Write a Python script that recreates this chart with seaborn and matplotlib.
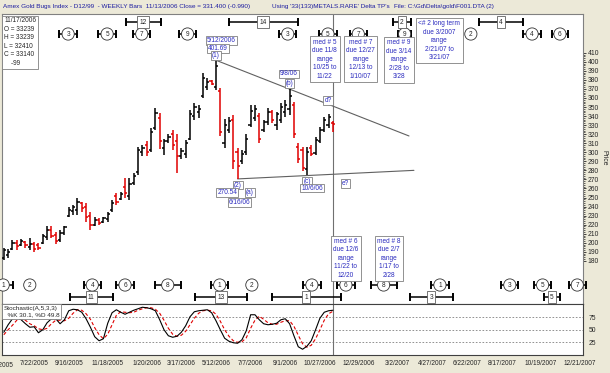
import numpy as np
import pandas as pd
import matplotlib
matplotlib.use('Agg')
import matplotlib.pyplot as plt
import matplotlib.dates as mdates
import matplotlib.transforms as mtransforms
import seaborn as sns

# Weekly bars 6/3/2005 .. 11/17/2006
bar_dates = pd.date_range('2005-06-03', '2006-11-17', freq='7D')
opens = [183, 186, 193, 200, 197, 201, 195, 199, 197, 200, 206, 214, 209, 203, 211,
         230, 235, 236, 244, 240, 230, 220, 225, 223, 226, 236, 252, 248, 262, 252,
         266, 278, 300, 308, 302, 327, 338, 305, 312, 320, 312, 296, 298, 315, 340,
         345, 362, 372, 379, 372, 368, 310, 325, 336, 300, 290, 300, 330, 338, 340,
         325, 333, 344, 330, 336, 345, 348, 352, 306, 303, 282, 305, 299, 312, 325,
         330, 332]
highs = [194, 193, 203, 203, 204, 202, 205, 201, 200, 210, 218, 218, 212, 214, 219,
         240, 242, 249, 245, 244, 234, 229, 227, 229, 234, 247, 255, 256, 271, 271,
         277, 306, 308, 312, 327, 349, 343, 315, 320, 325, 320, 305, 313, 347, 354,
         352, 388, 382, 380, 401.69, 371, 337, 339, 341, 305, 302, 320, 352, 352, 343,
         336, 349, 347, 345, 354, 358, 370, 355, 310, 306, 306, 308, 317, 328, 339,
         342, 334]
lows = [181, 183, 192, 192, 196, 194, 192, 190, 192, 199, 203, 205, 199, 201, 209,
        229, 231, 231, 234, 223, 214, 218, 220, 222, 223, 234, 242, 247, 249, 247,
        264, 275, 296, 296, 300, 325, 304, 297, 310, 302, 277, 292, 294, 313, 336,
        338, 360, 369, 374, 369, 318, 305, 321, 282, 270.54, 287, 297, 328, 335, 310,
        322, 330, 332, 325, 332, 339, 341, 316, 288, 279, 274.5, 296, 297, 310, 322,
        327, 322]
closes = [192, 190, 200, 196, 202, 197, 199, 193, 194, 208, 214, 208, 202, 211, 217,
          236, 239, 245, 238, 228, 220, 225, 222, 227, 232, 244, 245, 254, 255, 265,
          274, 302, 305, 300, 322, 343, 312, 312, 317, 308, 296, 301, 310, 342, 350,
          348, 382, 378, 375, 395, 322, 330, 334, 290, 285, 298, 315, 346, 348, 315,
          333, 345, 336, 342, 350, 352, 362, 320, 292, 283, 300, 298, 314, 325, 336,
          339, 331.4]
stoch_k = [45, 60, 72, 75, 70, 62, 55, 56, 44, 50, 64, 72, 72, 62, 70, 88, 91, 90, 85,
           72, 55, 36, 28, 32, 63, 84, 90, 85, 81, 85, 89, 92, 95, 94, 92, 88, 70, 50,
           38, 35, 37, 45, 58, 76, 86, 88, 89, 90, 84, 68, 50, 33, 27, 24, 23, 30, 48,
           80, 80, 70, 62, 60, 61, 63, 70, 72, 62, 38, 16, 11, 17, 28, 50, 73, 85, 88, 89]
stoch_d = [40, 50, 59, 69, 72, 69, 62, 58, 52, 50, 53, 62, 69, 69, 68, 73, 83, 90, 89,
           82, 71, 54, 40, 32, 41, 60, 79, 86, 85, 84, 85, 89, 92, 94, 94, 91, 83, 69,
           53, 41, 37, 39, 47, 60, 73, 83, 88, 89, 88, 81, 67, 50, 37, 28, 25, 26, 34,
           53, 69, 77, 71, 64, 61, 61, 65, 68, 68, 57, 39, 22, 15, 19, 32, 50, 69, 82, 87]

price_ticks = list(range(180, 411, 10))
stoch_levels = [25, 50, 75]
date_ticks = ['2005-07-22', '2005-09-16', '2005-11-18', '2006-01-20', '2006-03-17',
              '2006-05-12', '2006-07-07', '2006-09-01', '2006-10-27', '2006-12-29',
              '2007-03-02', '2007-04-27', '2007-06-22', '2007-08-17', '2007-10-19',
              '2007-12-21']
date_labels = ['7/22/2005', '9/16/2005', '11/18/2005', '1/20/2006', '3/17/2006',
               '5/12/2006', '7/7/2006', '9/1/2006', '10/27/2006', '12/29/2006',
               '3/2/2007', '4/27/2007', '6/22/2007', '8/17/2007', '10/19/2007',
               '12/21/2007']

# cycle markers: (label, date, half width in days, 0 = no bracket)
top_cycles = [('3', '2005-09-15', 14), ('5', '2005-11-17', 14), ('7', '2006-01-12', 14),
              ('9', '2006-03-27', 14), ('3', '2006-09-05', 14), ('5', '2006-11-09', 14),
              ('7', '2006-12-28', 14), ('9', '2007-03-13', 11), ('2', '2007-06-28', 0),
              ('4', '2007-10-05', 14), ('6', '2007-11-19', 13)]
top_ranges = [('12', '2005-12-17', '2006-02-12'), ('14', '2006-06-02', '2006-09-21'),
              ('2', '2007-02-22', '2007-03-23'), ('4', '2007-07-11', '2007-09-20')]
bottom_cycles = [('1', '2005-06-02', 16), ('2', '2005-07-15', 0), ('4', '2005-10-24', 14),
                 ('6', '2005-12-16', 14), ('8', '2006-02-23', 21), ('1', '2006-05-18', 14),
                 ('2', '2006-07-09', 0), ('4', '2006-10-14', 14), ('6', '2006-12-08', 15),
                 ('8', '2007-02-07', 21), ('1', '2007-05-09', 15), ('3', '2007-08-30', 14),
                 ('5', '2007-10-22', 14), ('7', '2007-12-17', 14)]
bottom_ranges = [('11', '2005-09-18', '2005-11-26'), ('13', '2006-04-08', '2006-07-01'),
                 ('1', '2006-08-10', '2006-11-30'), ('3', '2007-03-21', '2007-05-30'),
                 ('5', '2007-10-24', '2007-11-19')]

# price labels: (text, date, price)
point_labels = [('5/12/2006', '2006-05-21', 423), ('401.69', '2006-05-15', 414.5),
                ('(1)', '2006-05-12', 406.5), ('9/8/06', '2006-09-07', 386.5),
                ('(b)', '2006-09-08', 376.5), ('d?', '2006-11-09', 357.7),
                ('(2)', '2006-06-16', 263.8), ('270.54', '2006-05-30', 256),
                ('(a)', '2006-07-06', 256), ('6/16/06', '2006-06-19', 245),
                ('(c)', '2006-10-06', 268), ('10/6/06', '2006-10-14', 260.5),
                ('e?', '2006-12-07', 266)]
note_labels = [('med # 5\ndue 11/8\nrange\n10/25 to\n11/22', '2006-11-04', 403),
               ('med # 7\ndue 12/27\nrange\n12/13 to\n1/10/07', '2007-01-01', 403),
               ('med # 9\ndue 3/14\nrange\n2/28 to\n3/28', '2007-03-04', 402),
               ('<# 2 long term\ndue 3/2007\nrange\n2/21/07 to\n3/21/07', '2007-05-08', 423.5),
               ('med # 6\ndue 12/6\nrange\n11/22 to\n12/20', '2006-12-08', 182.6),
               ('med # 8\ndue 2/7\nrange\n1/17 to\n2/28', '2007-02-16', 182.6)]
trend_upper = (['2006-05-12', '2007-03-20'], [401.69, 318])
trend_lower = (['2006-06-16', '2007-03-28'], [270.54, 280])
last_date = '2006-11-17'

sns.set_style('white')
plt.rcParams['font.family'] = ['Liberation Sans', 'DejaVu Sans']

BLUE = '#2b2bbf'
W, H = 610, 373


def pbox(x, y, w, h):
    return [x / W, 1 - (y + h) / H, w / W, h / H]


def dn(s):
    return mdates.date2num(pd.Timestamp(s))


fig = plt.figure(figsize=(6.1, 3.73), dpi=100)
fig.patch.set_facecolor('#ece9d8')
ax = fig.add_axes(pbox(2, 14, 581, 290))
ax2 = fig.add_axes(pbox(2, 304, 581, 51), sharex=ax)

# price bars
xs = mdates.date2num(bar_dates)
cols = ['black' if c >= o else '#e00000' for o, c in zip(opens, closes)]
tick = 3.5
ax.vlines(xs, lows, highs, colors=cols, lw=1.1, zorder=3)
ax.hlines(opens, xs - tick, xs, colors=cols, lw=1.1, zorder=3)
ax.hlines(closes, xs, xs + tick, colors=cols, lw=1.1, zorder=3)

for dates, vals in (trend_upper, trend_lower):
    ax.plot([dn(s) for s in dates], vals, color='#606060', lw=0.8, zorder=2)

ax.axvline(dn(last_date), color='#707070', lw=0.8, zorder=1)
ax2.axvline(dn(last_date), color='#707070', lw=0.8, zorder=1)

ax.set_xlim(dn('2005-05-31 02:00'), dn('2007-12-26 07:00'))
ax.set_ylim(132.3, 452.8)

small_box = dict(boxstyle='square,pad=0.15', fc='white', ec='#808080', lw=0.6)
for txt, dt, p in point_labels:
    ax.text(dn(dt), p, txt, ha='center', va='center', fontsize=4.7, color=BLUE,
            bbox=small_box, zorder=7)
note_box = dict(boxstyle='square,pad=0.35', fc='white', ec='#808080', lw=0.6)
for txt, dt, p in note_labels:
    ax.text(dn(dt), p, txt, ha='center', va='center', multialignment='center',
            fontsize=4.7, color=BLUE, linespacing=1.3, bbox=note_box, zorder=7)

# cycle markers
blend = mtransforms.blended_transform_factory(ax.transData, ax.transAxes)


def bracket(x0, x1, y):
    ax.plot([x0, x1], [y, y], transform=blend, color='black', lw=1.1, zorder=5,
            clip_on=False)
    ax.plot([x0, x1], [y, y], transform=blend, ls='none', marker='|', ms=5.5, mew=1.4,
            color='black', zorder=5, clip_on=False)


def cycles(items, y):
    for lab, dt, half in items:
        x = dn(dt)
        if half:
            bracket(x - half, x + half, y)
        ax.text(x, y, lab, transform=blend, ha='center', va='center', fontsize=4.7,
                bbox=dict(boxstyle='circle,pad=0.4', fc='white', ec='#303030', lw=0.6),
                zorder=6)


def ranges(items, y):
    for lab, d0, d1 in items:
        x0, x1 = dn(d0), dn(d1)
        bracket(x0, x1, y)
        ax.text((x0 + x1) / 2, y, lab, transform=blend, ha='center', va='center',
                fontsize=4.7, bbox=dict(boxstyle='square,pad=0.35', fc='white',
                                        ec='#606060', lw=0.6), zorder=6)


cycles(top_cycles, 0.931)
ranges(top_ranges, 0.972)
cycles(bottom_cycles, 0.0655)
ranges(bottom_ranges, 0.024)

ax.text(0.004, 0.988, '11/17/2006\nO = 33239\nH = 33239\nL = 32410\nC = 33140\n    -99',
        transform=ax.transAxes, ha='left', va='top', fontsize=4.7, linespacing=1.3,
        bbox=dict(boxstyle='square,pad=0.3', fc='white', ec='#808080', lw=0.6), zorder=8)

# price axis
ax.yaxis.tick_right()
ax.set_yticks(price_ticks)
ax.set_yticks(np.arange(180, 411, 2), minor=True)
ax.tick_params(axis='y', which='major', labelsize=4.9, length=2.2, width=0.6, pad=1.2,
               direction='out', right=True, left=False)
ax.tick_params(axis='y', which='minor', length=1.2, width=0.5, direction='out',
               right=True, left=False)
ax.tick_params(axis='x', which='both', bottom=False, labelbottom=False)
for s in ax.spines.values():
    s.set_color('#808080')
    s.set_linewidth(0.8)

# stochastic panel
stoch = pd.DataFrame({'date': bar_dates, 'k': stoch_k, 'd': stoch_d})
sns.lineplot(data=stoch, x='date', y='d', ax=ax2, color='#e00000', lw=0.8,
             linestyle=(0, (3, 2)))
sns.lineplot(data=stoch, x='date', y='k', ax=ax2, color='black', lw=0.8)
for v in stoch_levels:
    ax2.axhline(v, color='#808080', lw=0.6, ls=(0, (2, 2)), zorder=0)
ax2.set_ylim(-0.5, 101.5)
ax2.set_xlim(dn('2005-05-31 02:00'), dn('2007-12-26 07:00'))
ax2.yaxis.tick_right()
ax2.set_yticks(stoch_levels)
ax2.tick_params(axis='y', labelsize=4.9, length=0, pad=4)
ax2.set_xticks([dn(s) for s in date_ticks])
ax2.set_xticklabels(date_labels)
ax2.tick_params(axis='x', labelsize=4.7, length=0, pad=3.5)
ax2.set_xlabel('')
ax2.set_ylabel('')
for s in ax2.spines.values():
    s.set_color('#404040')
    s.set_linewidth(0.8)
ax2.text(dn('2005-05-27'), -0.13, '5/27/2005', transform=mtransforms.blended_transform_factory(
    ax2.transData, ax2.transAxes), ha='center', va='top', fontsize=4.7, clip_on=False)
ax2.text(0.003, 0.96, 'Stochastic(A,5,3,3)\n  %K 30.1, %D 49.8', transform=ax2.transAxes,
         ha='left', va='top', fontsize=4.6, linespacing=1.25,
         bbox=dict(boxstyle='square,pad=0.25', fc='white', ec='#808080', lw=0.6), zorder=8)

# header and side label
fig.text(3 / W, 1 - 6.5 / H, "Amex Gold Bugs Index - D12/99  - WEEKLY Bars  11/13/2006 Close = 331.400 (-0.990)",
         ha='left', va='center', fontsize=4.6, color='#1c1ca0')
fig.text(272 / W, 1 - 6.5 / H, "Using '33(133)METALS.RARE' Delta TP's",
         ha='left', va='center', fontsize=4.6, color='#1c1ca0')
fig.text(394 / W, 1 - 6.5 / H, "File: C:\\Gd\\Delta\\gold\\F001.DTA (2)",
         ha='left', va='center', fontsize=4.6, color='#1c1ca0')
fig.text(604 / W, 1 - 158 / H, 'Price', rotation=270, ha='center', va='center', fontsize=4.9)

fig.savefig('out.png', dpi=100, facecolor=fig.get_facecolor())
